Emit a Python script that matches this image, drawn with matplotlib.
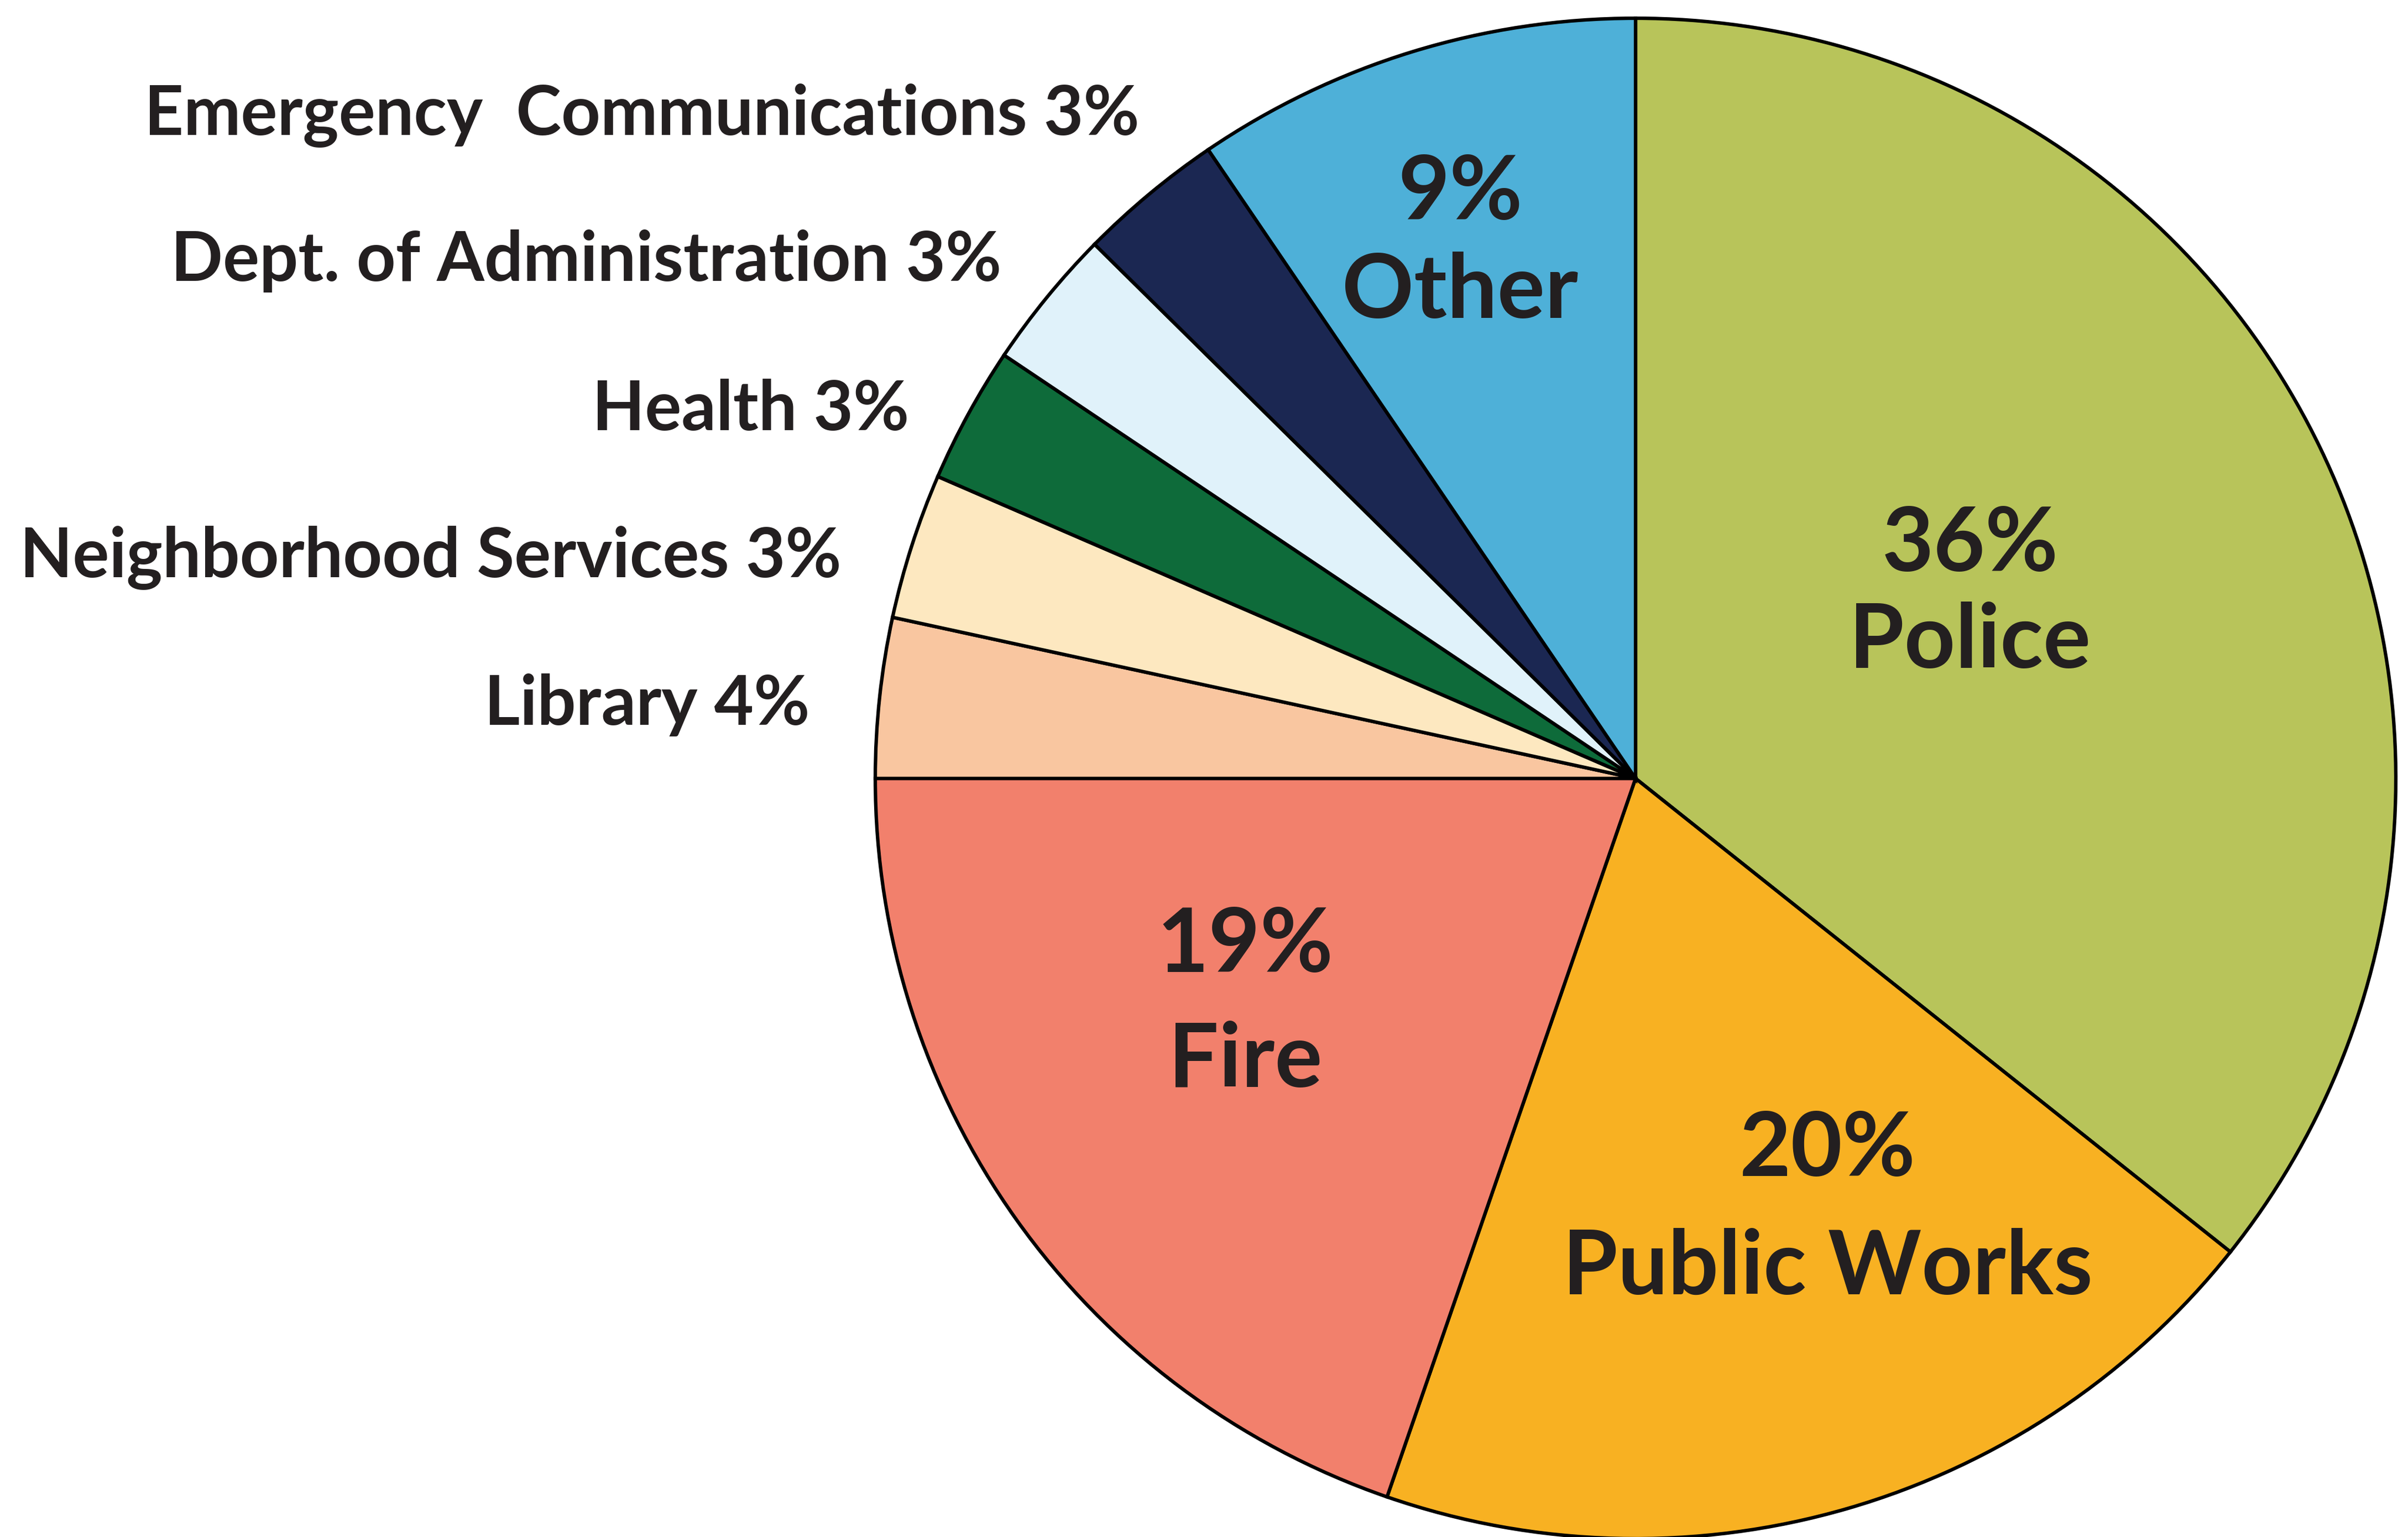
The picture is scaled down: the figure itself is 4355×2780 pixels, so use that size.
import matplotlib
matplotlib.use("Agg")
import matplotlib.pyplot as plt

# budget shares (clockwise from 12 o'clock)
departments = ["Police", "Public Works", "Fire", "Library", "Neighborhood Services",
               "Health", "Dept. of Administration", "Emergency  Communications", "Other"]
shares = [35.7, 19.6, 19.7, 3.4, 3.1, 2.9, 3.0, 3.1, 9.5]
printed_pct = ["36%", "20%", "19%", "4%", "3%", "3%", "3%", "3%", "9%"]
colors = ["#B8C45A", "#F8B122", "#F2806C", "#F9C6A0", "#FDE8C0",
          "#0E6B3A", "#E0F2FA", "#1B2752", "#4EB0D8"]

TEXT = "#231F20"
FONT = "Lato"


def main():
    W, H = 4355, 2780
    fig = plt.figure(figsize=(W / 100, H / 100), dpi=100)
    ax = fig.add_axes([0, 0, 1, 1])

    ax.pie(shares, colors=colors, startangle=90, counterclock=False,
           center=(2958, 1372), radius=1375, frame=True,
           wedgeprops=dict(edgecolor="black", linewidth=4.5))
    ax.set_xlim(0, W)
    ax.set_ylim(0, H)
    ax.set_aspect("equal")
    ax.axis("off")

    # big labels inside the slices
    inside = {0: (3563, 1747, 1572), 1: (3305, 653, 439),
              2: (2252, 1022, 814), 8: (2641, 2383, 2205)}
    for i, (x, y1, y2) in inside.items():
        ax.text(x, y1, printed_pct[i], ha="center", va="baseline",
                fontsize=116, fontweight="bold", family=FONT, color=TEXT)
        ax.text(x, y2, departments[i], ha="center", va="baseline",
                fontsize=116, fontweight="bold", family=FONT, color=TEXT)

    # small slices labelled on the left
    outside = {7: (2061, 2536), 6: (1811, 2272), 5: (1644, 2002),
               4: (1522, 1736), 3: (1464, 1469)}
    for i, (x, y) in outside.items():
        ax.text(x, y, departments[i] + " " + printed_pct[i], ha="right",
                va="baseline", fontsize=89, fontweight="bold", family=FONT,
                color=TEXT)

    fig.savefig("out.png", dpi=100, facecolor="white")


if __name__ == "__main__":
    main()
